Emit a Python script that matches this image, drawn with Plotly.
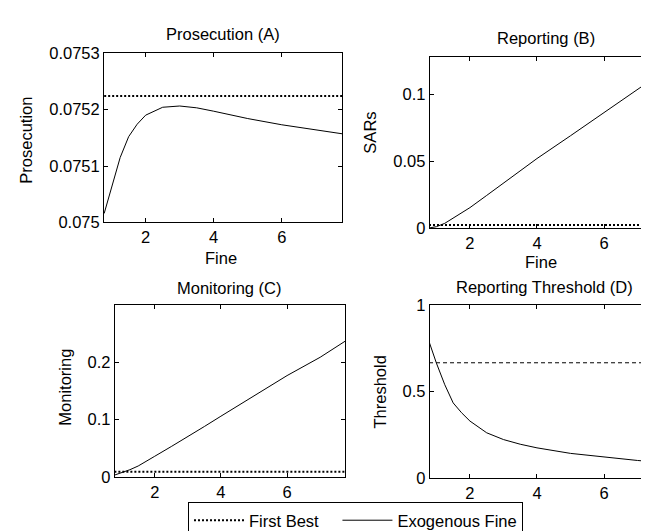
import plotly.graph_objects as go

# ---- data ----
fine = [0.78, 1.0, 1.25, 1.5, 1.75, 2.0, 2.5, 3.0, 3.5, 4.0, 5.0, 6.0, 7.0, 7.78]
prosecution = [0.075016, 0.075062, 0.075115, 0.075152, 0.075174, 0.075190, 0.075204,
               0.0752062, 0.075203, 0.075197, 0.075184, 0.075173, 0.075164, 0.075157]
sars = [0.0002, 0.0012, 0.0037, 0.0074, 0.0113, 0.0154, 0.0245, 0.0335, 0.0428,
        0.052, 0.069, 0.0861, 0.103, 0.117]
monitoring = [0.003, 0.007, 0.0125, 0.019, 0.027, 0.036, 0.053, 0.070, 0.088,
              0.106, 0.141, 0.177, 0.209, 0.238]
threshold = [0.79, 0.665, 0.54, 0.435, 0.378, 0.330, 0.262, 0.223, 0.196,
             0.175, 0.143, 0.121, 0.102, 0.090]
fine_span = [0.78, 7.78]
first_best_prosecution = [0.075224, 0.075224]
first_best_sars = [0.0025, 0.0025]
first_best_monitoring = [0.009, 0.009]
first_best_threshold = [0.667, 0.667]

series_names = ["First Best", "Exogenous Fine"]
panel_titles = ["Prosecution (A)", "Reporting (B)", "Monitoring (C)", "Reporting Threshold (D)"]
y_labels = ["Prosecution", "SARs", "Monitoring", "Threshold"]
x_ticks = [2, 4, 6]
y_ticks_a = [0.075, 0.0751, 0.0752, 0.0753]
y_ticktext_a = ["0.075", "0.0751", "0.0752", "0.0753"]
y_ticks_b = [0, 0.05, 0.1]
y_ticktext_b = ["0", "0.05", "0.1"]
y_ticks_c = [0, 0.1, 0.2]
y_ticktext_c = ["0", "0.1", "0.2"]
y_ticks_d = [0, 0.5, 1]
y_ticktext_d = ["0", "0.5", "1"]

FONT = "Liberation Sans, Arial, sans-serif"
FS = 16.5
W, H = 649, 531

fig = go.Figure()

dot_style = dict(color="black", width=2, dash="2px,2px")
solid_style = dict(color="black", width=1)

# trailing no-break spaces only widen the gap between the two legend entries
legend_names = [series_names[0] + "\u00a0" * 3, series_names[1]]

panels = [
    ("x", "y", first_best_prosecution, prosecution, dot_style),
    ("x2", "y2", first_best_sars, sars, dot_style),
    ("x3", "y3", first_best_monitoring, monitoring, dot_style),
    ("x4", "y4", first_best_threshold, threshold, dict(color="black", width=1, dash="4px,3px")),
]
for i, (xa, ya, fb, ex, fbstyle) in enumerate(panels):
    fig.add_trace(go.Scatter(x=fine_span, y=fb, mode="lines", line=fbstyle,
                             name=legend_names[0], showlegend=(i == 0),
                             xaxis=xa, yaxis=ya, hoverinfo="skip"))
    fig.add_trace(go.Scatter(x=fine, y=ex, mode="lines", line=solid_style,
                             name=legend_names[1], showlegend=(i == 0),
                             xaxis=xa, yaxis=ya, hoverinfo="skip"))

def px_x(p):
    return p / W

def px_y(p):
    return 1 - p / H

axis_common = dict(showline=True, linecolor="black", linewidth=1, ticks="inside",
                   ticklen=4, tickcolor="black", tickwidth=1, showgrid=False,
                   zeroline=False, tickfont=dict(family=FONT, size=FS, color="black"))

# domains (pixel measurements)
dom = {
    "a": dict(x=[px_x(96), px_x(334.3)], y=[px_y(212.7), px_y(37.3)]),
    "b": dict(x=[px_x(421.7), 1.0], y=[px_y(218.7), px_y(41)]),
    "c": dict(x=[px_x(106.7), px_x(337.3)], y=[px_y(476), px_y(298.3)]),
    "d": dict(x=[px_x(421.7), 1.0], y=[px_y(477.3), px_y(298.3)]),
}

fig.update_layout(
    xaxis=dict(domain=dom["a"]["x"], anchor="y", range=[0.775, 7.78], tickvals=x_ticks,
               mirror="ticks", **axis_common),
    yaxis=dict(domain=dom["a"]["y"], anchor="x", range=[0.075, 0.0753], tickvals=y_ticks_a,
               ticktext=y_ticktext_a, mirror="ticks", **axis_common),
    xaxis2=dict(domain=dom["b"]["x"], anchor="y2", range=[0.8, 7.58], tickvals=x_ticks,
                mirror="ticks", **axis_common),
    yaxis2=dict(domain=dom["b"]["y"], anchor="x2", range=[0, 0.128], tickvals=y_ticks_b,
                ticktext=y_ticktext_b, mirror=False, **axis_common),
    xaxis3=dict(domain=dom["c"]["x"], anchor="y3", range=[0.79, 7.76], tickvals=x_ticks,
                mirror="ticks", **axis_common),
    yaxis3=dict(domain=dom["c"]["y"], anchor="x3", range=[0, 0.3], tickvals=y_ticks_c,
                ticktext=y_ticktext_c, mirror="ticks", **axis_common),
    xaxis4=dict(domain=dom["d"]["x"], anchor="y4", range=[0.8, 7.58], tickvals=x_ticks,
                mirror="ticks", **axis_common),
    yaxis4=dict(domain=dom["d"]["y"], anchor="x4", range=[0, 1], tickvals=y_ticks_d,
                ticktext=y_ticktext_d, mirror=False, **axis_common),
)

ann = []
title_pos = [(215, 18), (537.5, 21.7), (221, 280), (536.7, 279.3)]
for t, (x, y) in zip(panel_titles, title_pos):
    ann.append(dict(text=t, x=px_x(x), y=px_y(y), xref="paper", yref="paper",
                    xanchor="center", yanchor="middle", showarrow=False,
                    font=dict(family=FONT, size=FS, color="black")))
ylab_pos = [(18, 128), (361.7, 120), (56.7, 383), (371.7, 388)]
for t, (x, y) in zip(y_labels, ylab_pos):
    ann.append(dict(text=t, x=px_x(x), y=px_y(y), xref="paper", yref="paper",
                    xanchor="center", yanchor="middle", showarrow=False, textangle=-90,
                    font=dict(family=FONT, size=FS, color="black")))
for (x, y) in [(212.5, 249), (532.5, 254)]:
    ann.append(dict(text="Fine", x=px_x(x), y=px_y(y), xref="paper", yref="paper",
                    xanchor="center", yanchor="middle", showarrow=False,
                    font=dict(family=FONT, size=FS, color="black")))

fig.update_layout(
    annotations=ann,
    width=W, height=H,
    margin=dict(l=0, r=0, t=0, b=0),
    paper_bgcolor="white", plot_bgcolor="white",
    font=dict(family=FONT, size=FS, color="black"),
    showlegend=True,
    legend=dict(orientation="h", x=px_x(180), y=px_y(502), xanchor="left", yanchor="top",
                bgcolor="white", bordercolor="black", borderwidth=1,
                font=dict(family=FONT, size=FS, color="black"),
                itemwidth=50, tracegroupgap=0),
)

fig.write_html("out.html")
